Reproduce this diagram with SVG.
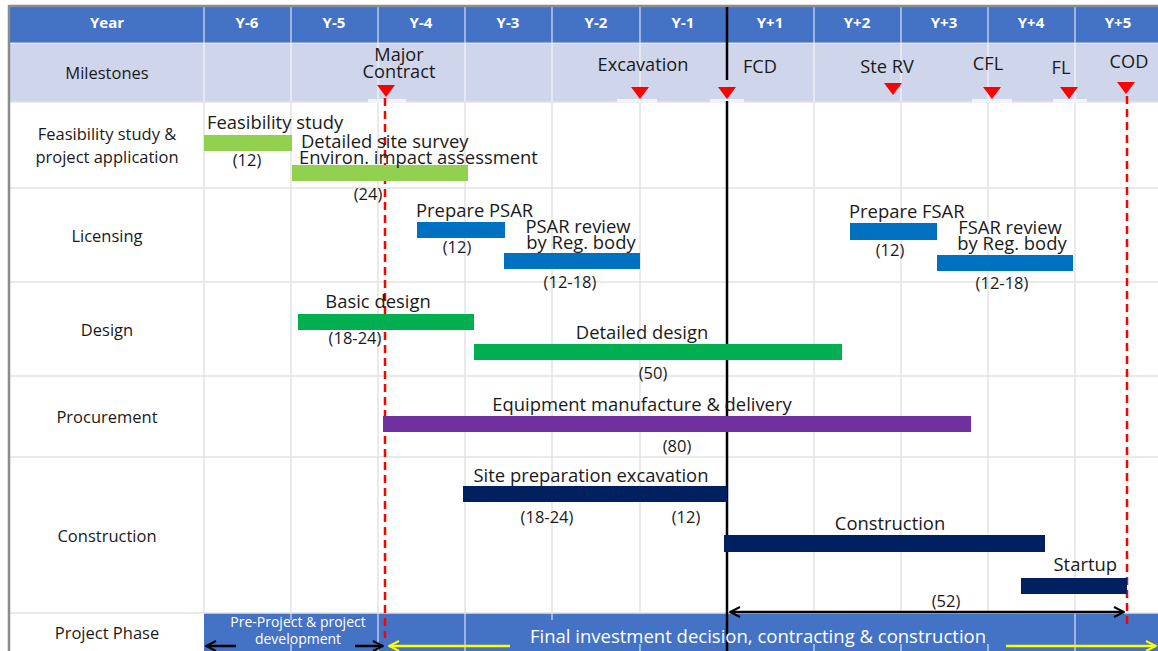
<svg xmlns="http://www.w3.org/2000/svg" width="1158" height="651" viewBox="0 0 1158 651">
<defs>
<style>
text{font-family:"Open Sans","Noto Sans",sans-serif;fill:#1a1a1a}
.hd{font-weight:bold;fill:#fff;font-size:15px;text-anchor:middle}
.rl{font-size:16.5px;text-anchor:middle}
.tk{font-size:18.4px}
.du{font-size:16.5px;text-anchor:middle}
.ms{font-size:18.2px;text-anchor:middle}
.grid{stroke:#e3e3e3;stroke-width:1.5}
.wl{stroke:#ffffff;stroke-width:1.2;opacity:0.8}
.tri{fill:#ff0000}
.red{stroke:#ff0000;stroke-width:2.5;stroke-dasharray:8,5;fill:none}
</style>
<marker id="ab" viewBox="0 0 10 10" refX="9" refY="5" markerWidth="5" markerHeight="5" orient="auto-start-reverse" markerUnits="strokeWidth"><path d="M1,1 L9,5 L1,9" fill="none" stroke="#000" stroke-width="1.6"/></marker>
<marker id="ay" viewBox="0 0 10 10" refX="9" refY="5" markerWidth="5" markerHeight="5" orient="auto-start-reverse" markerUnits="strokeWidth"><path d="M1,1 L9,5 L1,9" fill="none" stroke="#ffff00" stroke-width="1.6"/></marker>
</defs>
<rect width="1158" height="651" fill="#fff"/>
<g id="table">
<rect x="9" y="7" width="1149" height="36" fill="#4472c4"/>
<rect x="9" y="43" width="1149" height="59" fill="#cfd5ea"/>
<rect x="204" y="613" width="954" height="38" fill="#4472c4"/>
<g class="wl">
<line x1="204" y1="7" x2="204" y2="102"/><line x1="291" y1="7" x2="291" y2="102"/><line x1="378" y1="7" x2="378" y2="102"/><line x1="465" y1="7" x2="465" y2="102"/><line x1="552" y1="7" x2="552" y2="102"/><line x1="640" y1="7" x2="640" y2="102"/><line x1="814" y1="7" x2="814" y2="102"/><line x1="901" y1="7" x2="901" y2="102"/><line x1="988" y1="7" x2="988" y2="102"/><line x1="1075" y1="7" x2="1075" y2="102"/>
<line x1="9" y1="43" x2="1158" y2="43"/>
<line x1="291" y1="613" x2="291" y2="620"/><line x1="291" y1="644" x2="291" y2="651"/><line x1="378" y1="613" x2="378" y2="651"/><line x1="465" y1="613" x2="465" y2="651"/><line x1="552" y1="613" x2="552" y2="620"/><line x1="640" y1="644" x2="640" y2="651"/><line x1="814" y1="644" x2="814" y2="651"/><line x1="901" y1="644" x2="901" y2="651"/><line x1="988" y1="644" x2="988" y2="651"/><line x1="1075" y1="613" x2="1075" y2="651"/>
</g>
<g class="grid">
<line x1="204" y1="102" x2="204" y2="613"/><line x1="291" y1="102" x2="291" y2="613"/><line x1="378" y1="102" x2="378" y2="613"/><line x1="465" y1="102" x2="465" y2="613"/><line x1="552" y1="102" x2="552" y2="613"/><line x1="640" y1="102" x2="640" y2="613"/><line x1="814" y1="102" x2="814" y2="613"/><line x1="901" y1="102" x2="901" y2="613"/><line x1="988" y1="102" x2="988" y2="613"/><line x1="1075" y1="102" x2="1075" y2="613"/>
<line x1="9" y1="102" x2="1158" y2="102"/><line x1="9" y1="188" x2="1158" y2="188"/><line x1="9" y1="282" x2="1158" y2="282"/><line x1="9" y1="376" x2="1158" y2="376"/><line x1="9" y1="457" x2="1158" y2="457"/><line x1="9" y1="613" x2="1158" y2="613"/>
</g>
<rect x="368" y="99" width="38" height="4" fill="#f2f3f8"/>
<rect x="617" y="99" width="40" height="4" fill="#f2f3f8"/>
<rect x="710" y="99" width="34" height="4" fill="#f2f3f8"/>
<rect x="972" y="99" width="40" height="4" fill="#f2f3f8"/>
<rect x="1053" y="99" width="34" height="4" fill="#f2f3f8"/>
<line x1="9" y1="6" x2="1158" y2="6" stroke="#8c8c8c" stroke-width="2.5"/>
<line x1="9" y1="5" x2="9" y2="651" stroke="#8c8c8c" stroke-width="2.5"/>
</g>
<g id="headers">
<text class="hd" x="107" y="28">Year</text>
<text class="hd" x="247" y="28">Y-6</text><text class="hd" x="334" y="28">Y-5</text><text class="hd" x="421" y="28">Y-4</text><text class="hd" x="508" y="28">Y-3</text><text class="hd" x="596" y="28">Y-2</text><text class="hd" x="683" y="28">Y-1</text><text class="hd" x="770" y="28">Y+1</text><text class="hd" x="857" y="28">Y+2</text><text class="hd" x="944" y="28">Y+3</text><text class="hd" x="1031" y="28">Y+4</text><text class="hd" x="1118" y="28">Y+5</text>
</g>
<g id="row-labels">
<text class="rl" x="107" y="79">Milestones</text>
<text class="rl" x="107" y="140">Feasibility study &amp;</text>
<text class="rl" x="107" y="163">project application</text>
<text class="rl" x="107" y="242">Licensing</text>
<text class="rl" x="107" y="336">Design</text>
<text class="rl" x="107" y="423">Procurement</text>
<text class="rl" x="107" y="542">Construction</text>
<text class="rl" x="107" y="639">Project Phase</text>
</g>
<g id="connectors">
<line x1="727" y1="7" x2="727" y2="80" stroke="#000" stroke-width="2.5"/>
<line x1="727" y1="101" x2="727" y2="651" stroke="#000" stroke-width="2.5"/>
<line x1="385" y1="98" x2="385" y2="638" class="red"/>
<line x1="1127" y1="96" x2="1127" y2="628" class="red"/>
<line x1="730" y1="612" x2="1124" y2="612" stroke="#000" stroke-width="2.5" marker-start="url(#ab)" marker-end="url(#ab)"/>
<line x1="236" y1="646" x2="206" y2="646" stroke="#000" stroke-width="2.5" marker-end="url(#ab)"/>
<line x1="355" y1="646" x2="383" y2="646" stroke="#000" stroke-width="2.5" marker-end="url(#ab)"/>
<line x1="510" y1="646" x2="389" y2="646" stroke="#ffff00" stroke-width="2.5" marker-end="url(#ay)"/>
<line x1="1006" y1="646" x2="1156" y2="646" stroke="#ffff00" stroke-width="2.5" marker-end="url(#ay)"/>
</g>
<g id="milestones">
<g id="ms-major"><text class="ms" x="399" y="61">Major</text><text class="ms" x="399" y="78">Contract</text><path class="tri" d="M377,85 L395,85 L386,97 Z"/></g>
<g id="ms-excavation"><text class="ms" x="643" y="71">Excavation</text><path class="tri" d="M631,87 L649,87 L640,99 Z"/></g>
<g id="ms-fcd"><text class="ms" x="760" y="73">FCD</text><path class="tri" d="M718,87 L736,87 L727,99 Z"/></g>
<g id="ms-sterv"><text class="ms" x="887" y="73">Ste RV</text><path class="tri" d="M884,83 L902,83 L893,95 Z"/></g>
<g id="ms-cfl"><text class="ms" x="988" y="70">CFL</text><path class="tri" d="M983,87 L1001,87 L992,99 Z"/></g>
<g id="ms-fl"><text class="ms" x="1061" y="74">FL</text><path class="tri" d="M1060,87 L1078,87 L1069,99 Z"/></g>
<g id="ms-cod"><text class="ms" x="1129" y="68">COD</text><path class="tri" d="M1117,82 L1135,82 L1126,94 Z"/></g>
</g>
<g id="tasks">
<g id="t-feas"><rect x="204" y="135" width="88" height="16" fill="#92d050"/><text class="tk" x="207" y="129">Feasibility study</text><text class="du" x="247" y="166">(12)</text></g>
<g id="t-eia"><rect x="292" y="165" width="176" height="16" fill="#92d050"/><text class="tk" x="301" y="148">Detailed site survey</text><text class="tk" x="299" y="164">Environ. impact assessment</text><text class="du" x="368" y="200">(24)</text></g>
<g id="t-psar"><rect x="417" y="222" width="88" height="16" fill="#0070c0"/><text class="tk" x="416" y="217">Prepare PSAR</text><text class="du" x="457" y="253">(12)</text></g>
<g id="t-psar-rev"><rect x="504" y="253" width="136" height="16" fill="#0070c0"/><text class="tk" x="578" y="233" text-anchor="middle">PSAR review</text><text class="tk" x="581" y="249" text-anchor="middle">by Reg. body</text><text class="du" x="570" y="288">(12-18)</text></g>
<g id="t-fsar"><rect x="850" y="223" width="87" height="17" fill="#0070c0"/><text class="tk" x="849" y="218">Prepare FSAR</text><text class="du" x="890" y="256">(12)</text></g>
<g id="t-fsar-rev"><rect x="937" y="255" width="136" height="16" fill="#0070c0"/><text class="tk" x="1010" y="234" text-anchor="middle">FSAR review</text><text class="tk" x="1012" y="250" text-anchor="middle">by Reg. body</text><text class="du" x="1002" y="289">(12-18)</text></g>
<g id="t-basic"><rect x="298" y="314" width="176" height="16" fill="#00b050"/><text class="tk" x="378" y="308" text-anchor="middle">Basic design</text><text class="du" x="355" y="344">(18-24)</text></g>
<g id="t-detailed"><rect x="474" y="344" width="368" height="16" fill="#00b050"/><text class="tk" x="642" y="339" text-anchor="middle">Detailed design</text><text class="du" x="653" y="379">(50)</text></g>
<g id="t-equip"><rect x="383" y="416" width="588" height="16" fill="#7030a0"/><text class="tk" x="642" y="411" text-anchor="middle">Equipment manufacture &amp; delivery</text><text class="du" x="677" y="452">(80)</text></g>
<g id="t-site"><rect x="463" y="486" width="264" height="16" fill="#002060"/><text class="tk" x="591" y="482" text-anchor="middle">Site preparation excavation</text><text class="du" x="547" y="523">(18-24)</text><text class="du" x="686" y="523">(12)</text></g>
<g id="t-constr"><rect x="724" y="535" width="321" height="17" fill="#002060"/><text class="tk" x="890" y="530" text-anchor="middle">Construction</text></g>
<g id="t-startup"><rect x="1021" y="578" width="106" height="16" fill="#002060"/><text class="tk" x="1117" y="571" text-anchor="end">Startup</text><text class="du" x="946" y="607">(52)</text></g>
</g>
<g id="phases">
<text x="298" y="627" style="fill:#fff;font-size:14px;text-anchor:middle">Pre-Project &amp; project</text>
<text x="298" y="644" style="fill:#fff;font-size:14px;text-anchor:middle">development</text>
<text x="758" y="643" style="fill:#fff;font-size:18.5px;text-anchor:middle">Final investment decision, contracting &amp; construction</text>
</g>
</svg>
